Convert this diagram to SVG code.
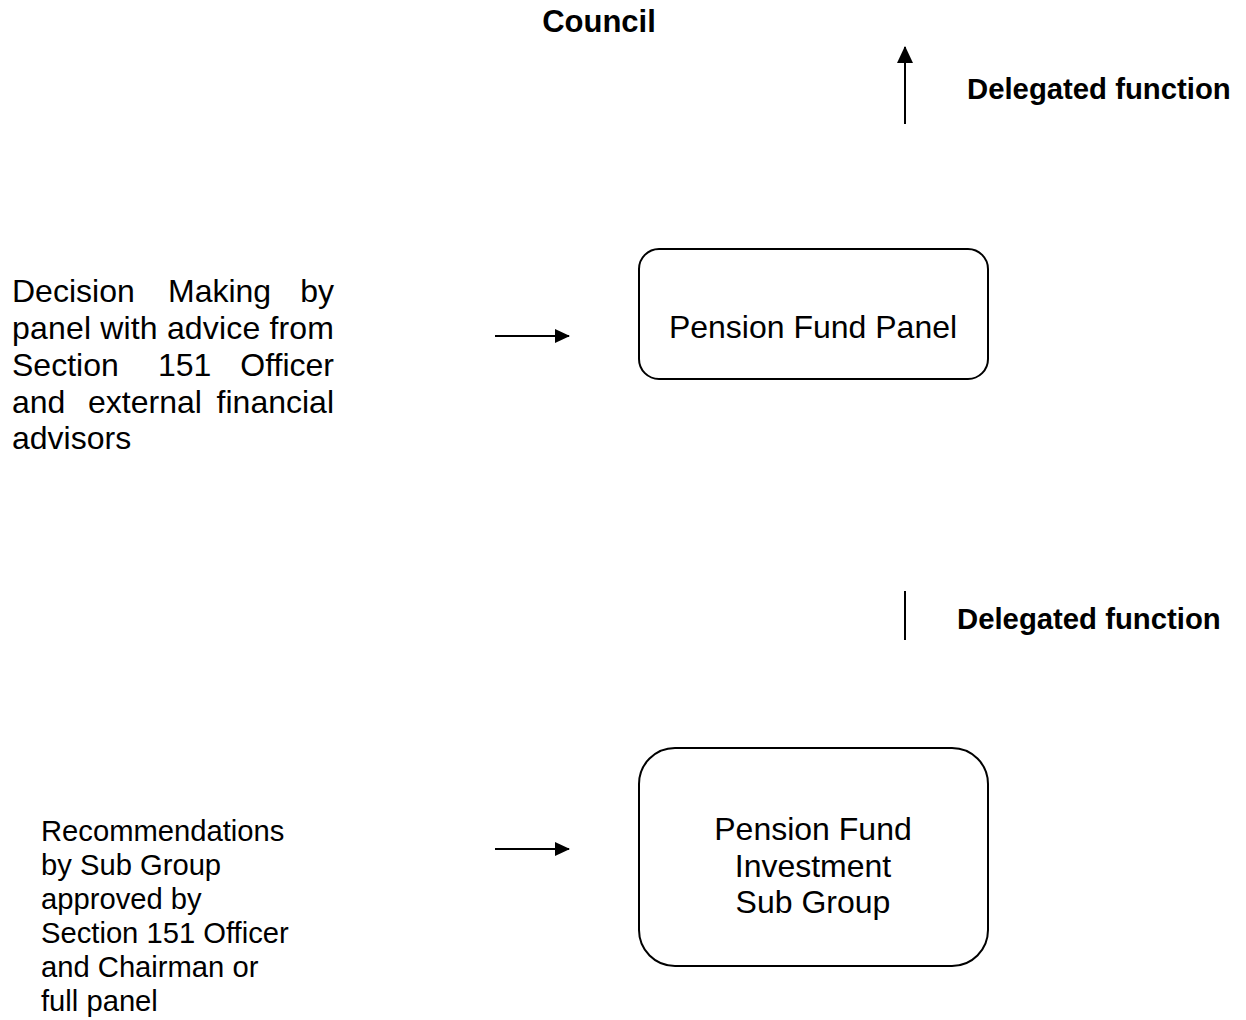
<svg xmlns="http://www.w3.org/2000/svg" width="1246" height="1020" viewBox="0 0 1246 1020">
<style>
text{font-family:"Liberation Sans",Arial,sans-serif;fill:#000}
.b{font-weight:bold;font-size:29.3px}
.t{font-size:32px}
.s{font-size:29.2px}
.box{fill:#fff;stroke:#000;stroke-width:2}
.ln{stroke:#000;stroke-width:2;fill:none}
</style>
<defs>
<marker id="ah" markerWidth="15" markerHeight="14" refX="14" refY="7" orient="auto" markerUnits="userSpaceOnUse">
<path d="M0,0 L15,7 L0,14 Z" fill="#000"/>
</marker>
<marker id="au" markerWidth="17" markerHeight="16" refX="16" refY="8" orient="auto" markerUnits="userSpaceOnUse">
<path d="M0,0 L17,8 L0,16 Z" fill="#000"/>
</marker>
</defs>
<rect width="1246" height="1020" fill="#fff"/>
<g id="council"><text class="b" x="599" y="32" text-anchor="middle" style="font-size:31px">Council</text></g>
<g id="label-delegated-1"><text class="b" x="967" y="99">Delegated function</text></g>
<g id="label-delegated-2"><text class="b" x="957" y="629">Delegated function</text></g>
<g id="pension-fund-panel">
<rect class="box" x="639" y="249" width="349" height="130" rx="20"/>
<text class="t" x="813" y="338" text-anchor="middle">Pension Fund Panel</text>
</g>
<g id="investment-sub-group">
<rect class="box" x="639" y="748" width="349" height="218" rx="36"/>
<text class="t" x="813" y="840" text-anchor="middle">Pension Fund</text>
<text class="t" x="813" y="877" text-anchor="middle">Investment</text>
<text class="t" x="813" y="913" text-anchor="middle">Sub Group</text>
</g>
<g id="decision-text">
<text class="t" x="12" y="302">Decision</text>
<text class="t" x="168" y="302">Making</text>
<text class="t" x="334" y="302" text-anchor="end">by</text>
<text class="t" x="12" y="339" textLength="322" lengthAdjust="spacing">panel with advice from</text>
<text class="t" x="12" y="376">Section</text>
<text class="t" x="158" y="376">151</text>
<text class="t" x="334" y="376" text-anchor="end">Officer</text>
<text class="t" x="12" y="413">and</text>
<text class="t" x="88" y="413">external</text>
<text class="t" x="334" y="413" text-anchor="end">financial</text>
<text class="t" x="12" y="449">advisors</text>
</g>
<g id="recommendations-text">
<text class="s" x="41" y="841">Recommendations</text>
<text class="s" x="41" y="875">by Sub Group</text>
<text class="s" x="41" y="909">approved by</text>
<text class="s" x="41" y="943">Section 151 Officer</text>
<text class="s" x="41" y="977">and Chairman or</text>
<text class="s" x="41" y="1011">full panel</text>
</g>
<g id="connectors">
<line class="ln" x1="905" y1="124" x2="905" y2="47" marker-end="url(#au)"/>
<line class="ln" x1="495" y1="336" x2="569" y2="336" marker-end="url(#ah)"/>
<line class="ln" x1="905" y1="591" x2="905" y2="640"/>
<line class="ln" x1="495" y1="849" x2="569" y2="849" marker-end="url(#ah)"/>
</g>
</svg>
